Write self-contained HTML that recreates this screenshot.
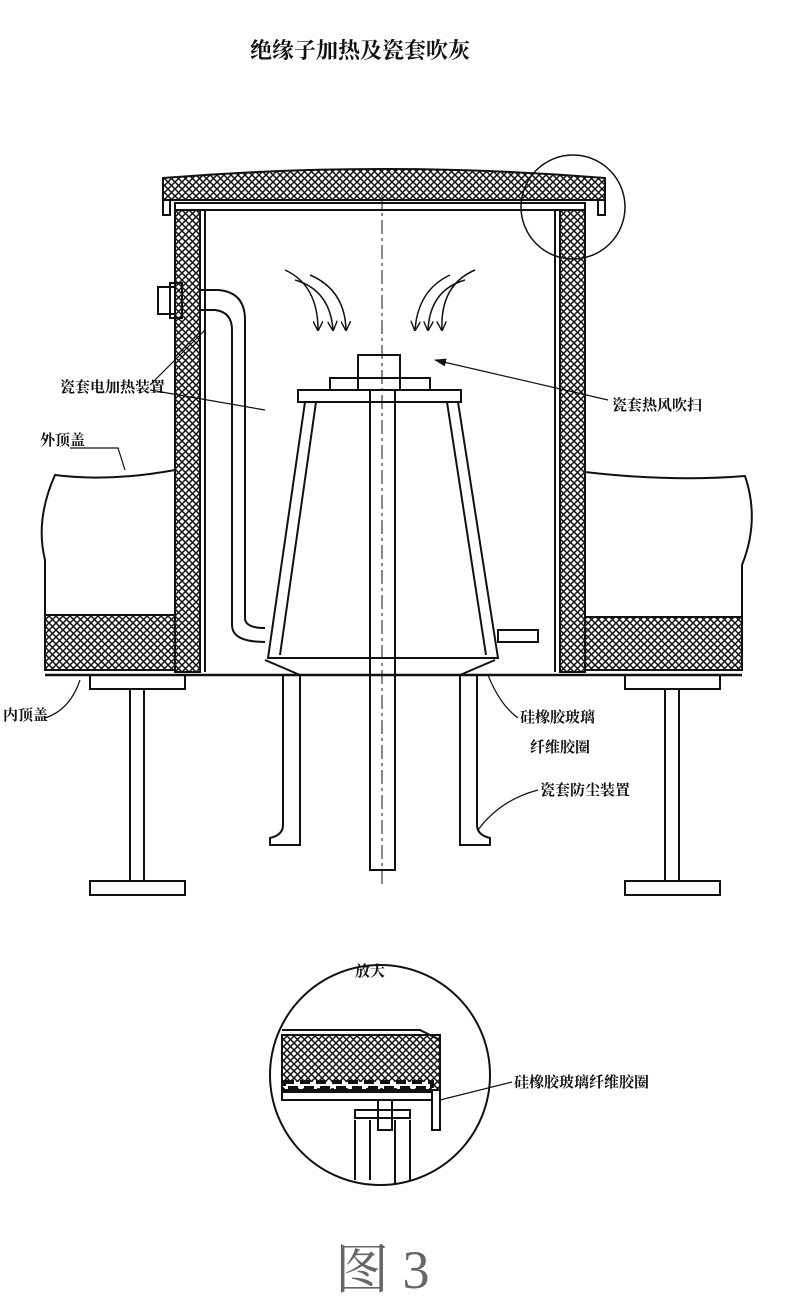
<!DOCTYPE html>
<html><head><meta charset="utf-8"><style>
html,body{margin:0;padding:0;background:#fff;}
svg{display:block;}
text{font-family:"Liberation Serif","Noto Serif CJK SC","Noto Sans CJK SC",serif;fill:#111;}
</style></head><body>
<svg width="800" height="1299" viewBox="0 0 800 1299" xmlns="http://www.w3.org/2000/svg">
<defs>
<pattern id="h" width="7" height="7" patternUnits="userSpaceOnUse">
<rect width="7" height="7" fill="#fff"/>
<path d="M0,0L7,7M7,0L0,7" stroke="#111" stroke-width="1.5"/>
</pattern>
<marker id="ar" markerWidth="10" markerHeight="10" refX="9" refY="5" orient="auto" markerUnits="userSpaceOnUse"><path d="M0,0L10,5L0,10" fill="none" stroke="#111" stroke-width="1.4"/></marker>
<marker id="ah" markerWidth="12" markerHeight="8" refX="11" refY="4" orient="auto" markerUnits="userSpaceOnUse"><path d="M0,0L12,4L0,8z" fill="#111"/></marker>
</defs>
<g stroke="#111" stroke-width="2" fill="none">
<path d="M163,178 Q385,160 605,178 L605,200 L163,200 Z" fill="url(#h)"/>
<path d="M163,178 L163,215 L170,215 L170,200 M605,178 L605,215 L598,215 L598,200"/>
<rect x="175" y="203" width="410" height="7"/>
<rect x="175" y="210" width="25" height="462" fill="url(#h)"/>
<rect x="560" y="210" width="25" height="462" fill="url(#h)"/>
<line x1="205" y1="210" x2="205" y2="672"/>
<line x1="555" y1="210" x2="555" y2="672"/>
<path d="M175,470 Q110,482 55,475 Q35,520 45,560 L45,670 L175,670"/>
<rect x="45" y="615" width="130" height="55" fill="url(#h)"/>
<path d="M585,472 Q670,482 745,476 Q760,520 742,565 L742,670 L585,670"/>
<rect x="585" y="617" width="157" height="53" fill="url(#h)"/>
<line x1="45" y1="675" x2="742" y2="675" stroke-width="2.5"/>
<rect x="90" y="675" width="95" height="14"/>
<rect x="130" y="689" width="14" height="192"/>
<rect x="90" y="881" width="95" height="14"/>
<rect x="625" y="675" width="95" height="14"/>
<rect x="665" y="689" width="14" height="192"/>
<rect x="625" y="881" width="95" height="14"/>
<circle cx="573" cy="207" r="52" stroke-width="1.5"/>
<line x1="382" y1="195" x2="382" y2="885" stroke-dasharray="14,4,3,4" stroke-width="1"/>
<rect x="298" y="390" width="163" height="12"/>
<path d="M305,402 L268,658 L498,658 L458,402"/>
<path d="M316,402 L280,655 M447,402 L486,655"/>
<rect x="330" y="378" width="100" height="12"/>
<rect x="358" y="355" width="42" height="35"/>
<rect x="370" y="390" width="25" height="480"/>
<rect x="498" y="630" width="40" height="12"/>
<path d="M200,290 L218,290 Q245,292 245,320 L245,618 Q245,628 265,628"/>
<path d="M200,310 L215,310 Q232,312 232,330 L232,625 Q232,642 265,642"/>
<rect x="158" y="287" width="17" height="27"/>
<rect x="170" y="283" width="12" height="35"/>
<path d="M283,675 L283,825 Q283,835 270,838 L270,845 L300,845 L300,675 Z"/>
<path d="M477,675 L477,825 Q477,835 490,838 L490,845 L460,845 L460,675 Z"/>
<line x1="265" y1="660" x2="300" y2="675"/><line x1="495" y1="660" x2="460" y2="675"/>
<g stroke-width="1.5">
<path d="M285,270 Q318,285 318,330" marker-end="url(#ar)"/>
<path d="M295,280 Q330,290 333,330" marker-end="url(#ar)"/>
<path d="M310,275 Q345,290 346,330" marker-end="url(#ar)"/>
<path d="M475,270 Q440,285 442,330" marker-end="url(#ar)"/>
<path d="M465,280 Q430,290 428,330" marker-end="url(#ar)"/>
<path d="M450,275 Q418,290 415,330" marker-end="url(#ar)"/>
</g>
<path d="M150,385 L205,330" stroke-width="1.2"/>
<path d="M150,390 L265,410" stroke-width="1.2"/>
<path d="M608,400 L435,360" stroke-width="1.2" marker-end="url(#ah)"/>
<path d="M70,448 L118,448 L125,470" stroke-width="1.2"/>
<path d="M45,718 Q70,710 80,680" stroke-width="1.2"/>
<path d="M518,718 Q500,705 488,675" stroke-width="1.2"/>
<path d="M538,790 Q500,800 478,830" stroke-width="1.2"/>
<circle cx="380" cy="1075" r="110"/>
<path d="M282,1050 L282,1035 L440,1035 L440,1090 L282,1090 Z" fill="url(#h)"/>
<path d="M282,1030 L420,1030 L440,1040"/>
<path d="M440,1040 L440,1130 L432,1130 L432,1095"/>
<rect x="284" y="1082" width="148" height="6" fill="#fff" stroke-dasharray="10,6" stroke-width="4"/>
<rect x="282" y="1092" width="150" height="8"/>
<rect x="378" y="1100" width="14" height="30"/>
<rect x="355" y="1110" width="55" height="8"/>
<path d="M355,1120 L355,1180 M370,1120 L370,1180 M395,1120 L395,1183 M410,1120 L410,1180"/>
<path d="M512,1082 L440,1100" stroke-width="1.2"/>
</g>
<text x="360" y="58" font-size="22" text-anchor="middle" font-weight="bold">绝缘子加热及瓷套吹灰</text>
<text x="60" y="392" font-size="15" font-weight="bold">瓷套电加热装置</text>
<text x="612" y="410" font-size="15" font-weight="bold">瓷套热风吹扫</text>
<text x="40" y="445" font-size="15" font-weight="bold">外顶盖</text>
<text x="3" y="720" font-size="15" font-weight="bold">内顶盖</text>
<text x="520" y="722" font-size="15" font-weight="bold">硅橡胶玻璃</text>
<text x="530" y="752" font-size="15" font-weight="bold">纤维胶圈</text>
<text x="540" y="795" font-size="15" font-weight="bold">瓷套防尘装置</text>
<text x="370" y="976" font-size="15" text-anchor="middle" font-weight="bold">放大</text>
<text x="514" y="1087" font-size="15" font-weight="bold">硅橡胶玻璃纤维胶圈</text>
<text x="335" y="1288" font-size="54" style="fill:#666">图 3</text>
</svg>
</body></html>
